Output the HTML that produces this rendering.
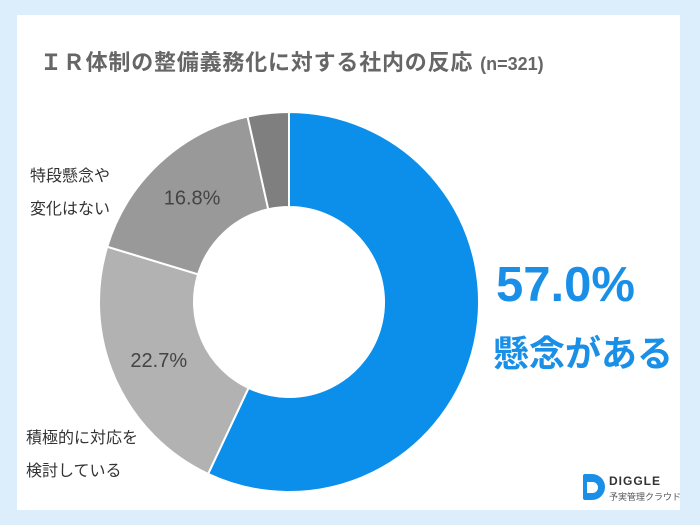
<!DOCTYPE html>
<html><head><meta charset="utf-8">
<style>
html,body{margin:0;padding:0;}
body{width:700px;height:525px;background:#dcedfb;position:relative;overflow:hidden;font-family:"Liberation Sans","Noto Sans CJK JP",sans-serif;}
.card{position:absolute;left:17px;top:15px;width:663px;height:495px;background:#fff;}
.t{position:absolute;white-space:nowrap;}
</style></head><body>
<div class="card"></div>
<div class="t" style="left:40px;top:45px;font-size:22px;font-weight:bold;color:#666;letter-spacing:0.8px;">ＩＲ体制の整備義務化に対する社内の反応 <span style="font-size:18px;letter-spacing:0">(n=321)</span></div>
<svg id="chart" width="700" height="525" style="position:absolute;left:0;top:0"></svg>
<div class="t" style="left:30px;top:160px;font-size:16px;color:#333;line-height:33px;">特段懸念や<br>変化はない</div>
<div class="t" style="left:26px;top:422px;font-size:16px;color:#333;line-height:33px;">積極的に対応を<br>検討している</div>
<div class="t" style="left:496px;top:257px;font-size:49px;font-weight:bold;color:#1a8fe8;">57.0%</div>
<div class="t" style="left:493px;top:325px;font-size:36px;font-weight:bold;color:#1a8fe8;">懸念がある</div>
<div style="position:absolute;left:583px;top:474px;width:22px;height:26px;background:#1a8fe8;border-radius:2px 13px 13px 2px;"></div>
<div style="position:absolute;left:587px;top:482px;width:11px;height:11px;background:#fff;border-radius:0 6px 6px 0;"></div>
<div class="t" style="left:609px;top:474px;font-size:12px;font-weight:bold;color:#333;letter-spacing:1px;">DIGGLE</div>
<div class="t" style="left:609px;top:490px;font-size:9px;color:#555;">予実管理クラウド</div>
<script>
const categories=["懸念がある","積極的に対応を検討している","特段懸念や変化はない","その他"];
const values=[57.0,22.7,16.8,3.5];
const colors=["#0c8feb","#b2b2b2","#999999","#7f7f7f"];
const showLabel=[false,true,true,false];
const cx=289,cy=302,R=190,r=95;
const svg=document.getElementById('chart');
const NS="http://www.w3.org/2000/svg";
const total=values.reduce((a,b)=>a+b,0);
function pt(a,rad){return [cx+rad*Math.sin(a),cy-rad*Math.cos(a)];}
let acc=0;
values.forEach((v,i)=>{
  const a0=acc/total*2*Math.PI; acc+=v; const a1=acc/total*2*Math.PI;
  const lg=(a1-a0)>Math.PI?1:0;
  const p0=pt(a0,R),p1=pt(a1,R),q1=pt(a1,r),q0=pt(a0,r);
  const p=document.createElementNS(NS,'path');
  p.setAttribute('d',`M${p0[0]},${p0[1]} A${R},${R} 0 ${lg} 1 ${p1[0]},${p1[1]} L${q1[0]},${q1[1]} A${r},${r} 0 ${lg} 0 ${q0[0]},${q0[1]} Z`);
  p.setAttribute('fill',colors[i]);p.setAttribute('stroke','#fff');p.setAttribute('stroke-width','2');
  
  
  svg.appendChild(p);
  if(showLabel[i]){
    const m=(a0+a1)/2,lp=pt(m,(R+r)/2);
    const t=document.createElementNS(NS,'text');
    t.setAttribute('x',lp[0]);t.setAttribute('y',lp[1]+7);
    t.setAttribute('text-anchor','middle');t.setAttribute('font-size','20');t.setAttribute('fill','#444');
    t.setAttribute('font-family','"Liberation Sans",sans-serif');
    t.textContent=v.toFixed(1)+'%';
    
    
    svg.appendChild(t);
  }
});
</script>
</body></html>
